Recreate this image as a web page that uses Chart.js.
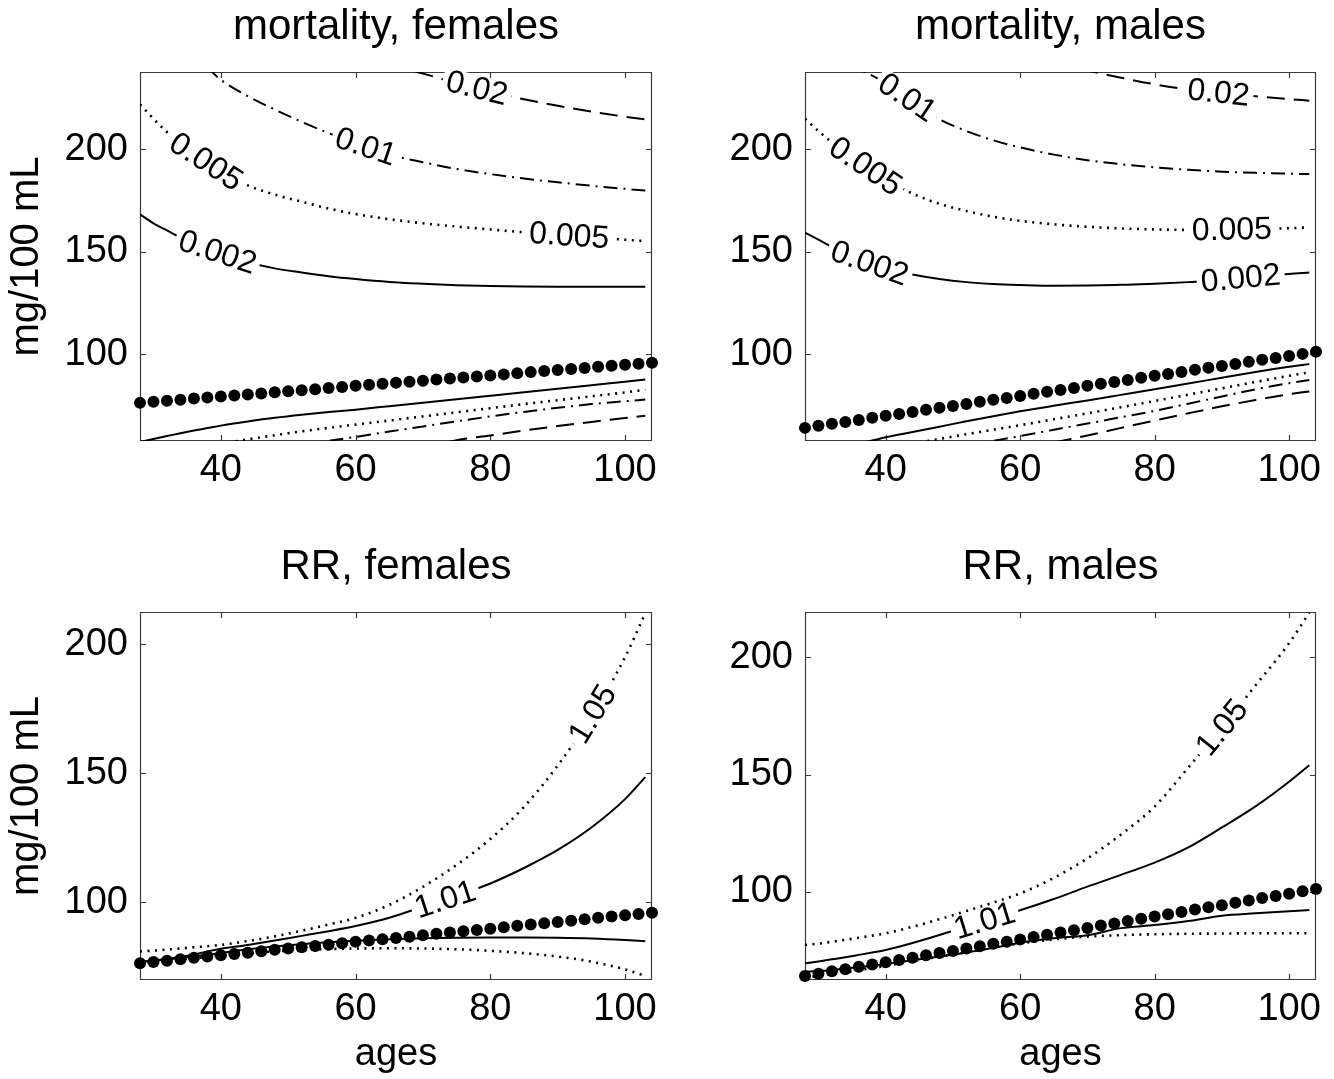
<!DOCTYPE html>
<html>
<head>
<meta charset="utf-8">
<script src="https://cdn.jsdelivr.net/npm/chart.js@4.4.1/dist/chart.umd.min.js"></script>
<style>
  html, body { margin: 0; padding: 0; background: #fff; }
  #wrap { position: relative; width: 1334px; height: 1079px; overflow: hidden; background: #fff; }
  #wrap canvas { position: absolute; }
</style>
</head>
<body>
<div id="wrap">
  <canvas id="mortF" width="667" height="540" style="left:0;top:0"></canvas>
  <canvas id="mortM" width="667" height="540" style="left:667px;top:0"></canvas>
  <canvas id="rrF" width="667" height="539" style="left:0;top:540px"></canvas>
  <canvas id="rrM" width="667" height="539" style="left:667px;top:540px"></canvas>
</div>
<script>
// ---- axes ----
const xTickVals = [40, 60, 80, 100];
const yTickVals = [100, 150, 200];

// ---- dotted reference series (big black dots) ----
const dotAges = [28, 30, 32, 34, 36, 38, 40, 42, 44, 46, 48, 50, 52, 54, 56, 58, 60, 62, 64, 66,
                 68, 70, 72, 74, 76, 78, 80, 82, 84, 86, 88, 90, 92, 94, 96, 98, 100, 102, 104];
const femaleDots = [76.4, 76.9, 77.4, 77.9, 78.5, 79.0, 79.5, 80.0, 80.5, 81.0,
                    81.6, 82.1, 82.6, 83.1, 83.6, 84.1, 84.7, 85.2, 85.7, 86.2,
                    86.7, 87.2, 87.8, 88.3, 88.8, 89.3, 89.8, 90.3, 90.9, 91.4,
                    91.9, 92.4, 92.9, 93.4, 94.0, 94.5, 95.0, 95.5, 96.0];
const maleDots = [64.2, 65.2, 66.2, 67.1, 68.1, 69.1, 70.1, 71.0, 72.0, 73.0,
                  74.0, 74.9, 75.9, 76.9, 77.9, 78.8, 79.8, 80.8, 81.8, 82.7,
                  83.7, 84.7, 85.7, 86.6, 87.6, 88.6, 89.6, 90.5, 91.5, 92.5,
                  93.5, 94.4, 95.4, 96.4, 97.4, 98.3, 99.3, 100.3, 101.3];

// ---- contour lines, all read at these ages ----
const contourAges = [28, 30, 32, 34, 36, 38, 40, 44, 48, 52, 56, 60, 65, 70, 75, 80, 85, 90, 95, 100, 103];

// mortality, females
const mortF_hi002 = [168.4, 164, 160.5, 157, 154, 151.5, 149.3, 145, 142, 140, 138.2, 136.8, 135.4, 134.5, 133.8, 133.4, 133.2, 133.1, 133.1, 133.1, 133.1];
const mortF_hi005 = [222, 215, 208.5, 203, 198, 193.5, 189.5, 182.5, 178, 174.5, 171.2, 168.5, 166, 164, 162.4, 161, 159.6, 158.3, 157.2, 156, 155.3];
const mortF_hi01 = [null, null, null, null, null, 240, 234, 226, 219.5, 213.5, 208, 203, 197.5, 193.8, 190.5, 188, 185.8, 184, 182.3, 180.8, 180];
const mortF_hi02 = [null, null, null, null, null, null, null, null, null, null, null, null, 241, 237, 232.3, 228.2, 224.5, 221.3, 218.5, 216, 214.7];
const mortF_lo002 = [57.3, 58.8, 60.2, 61.6, 62.9, 64.1, 65.3, 67.3, 69.1, 70.6, 71.9, 73.1, 74.8, 76.5, 78.2, 79.9, 81.6, 83.3, 85, 86.7, 87.8];
const mortF_lo005 = [null, null, null, null, null, null, 56.5, 58.6, 60.6, 62.5, 64.2, 65.8, 67.8, 69.8, 71.8, 73.8, 75.8, 77.7, 79.6, 81.5, 82.8];
const mortF_lo01 = [null, null, null, null, null, null, null, null, null, 56, 57.9, 59.8, 62.4, 64.9, 67.4, 69.8, 72, 74, 75.8, 77.2, 78];
const mortF_lo02 = [null, null, null, null, null, null, null, null, null, null, null, null, null, 54.5, 58.2, 60.5, 62.9, 65.1, 67.1, 69, 70.1];

// mortality, males
const mortM_hi002 = [159.5, 156, 152.5, 149.3, 146.5, 144, 142, 139, 136.8, 135.3, 134.4, 133.9, 133.5, 133.6, 134, 134.5, 135.3, 136.3, 137.8, 139.3, 140];
const mortM_hi005 = [215, 209, 203.5, 198.5, 194, 189.5, 185.5, 178.5, 173.5, 170, 167.2, 165.2, 163.5, 162.3, 161.5, 161, 160.8, 160.8, 161.1, 161.6, 162];
const mortM_hi01 = [null, null, null, 242, 239, 236, 232.3, 223.5, 214.8, 209, 204.5, 201, 197.5, 194.8, 192.8, 191.3, 190.1, 189.2, 188.6, 188.2, 188];
const mortM_hi02 = [null, null, null, null, null, null, null, null, null, null, null, null, 242, 238.5, 235, 231.8, 229.3, 227.5, 226, 224.6, 223.8];
const mortM_lo002 = [null, null, null, null, 56.5, 58, 59.6, 62.2, 64.8, 67.4, 69.9, 72.3, 75, 77.6, 80.3, 83, 85.8, 88.7, 91.5, 94, 95.3];
const mortM_lo005 = [null, null, null, null, null, null, null, 56.5, 58.8, 61.1, 63.3, 65.5, 68.4, 71.3, 74.3, 77.3, 80.4, 83.5, 86.6, 89.6, 91.3];
const mortM_lo01 = [null, null, null, null, null, null, null, null, null, 55.6, 57.9, 60.2, 63.3, 66.3, 69.4, 72.5, 76, 79.5, 83, 86, 87.6];
const mortM_lo02 = [null, null, null, null, null, null, null, null, null, null, null, null, 57, 60.5, 64.2, 67.8, 71.3, 74.7, 77.8, 80.6, 82];

// RR, females
const rrF_hi105 = [81, 81.3, 81.7, 82.1, 82.6, 83, 83.5, 85, 86.8, 89, 91.4, 94, 99, 106, 114.5, 124.5, 137, 153, 172, 195, 212];
const rrF_hi101 = [77, 77.4, 78, 78.8, 79.8, 81, 82, 83.5, 85.2, 87, 88.8, 90.8, 94, 98.3, 102.5, 107.3, 113.3, 120.3, 129, 140, 148.5];
const rrF_lo101 = [77, 77.3, 77.8, 78.4, 79, 79.7, 80.4, 81.8, 82.9, 83.8, 84.5, 85.1, 85.7, 86.1, 86.3, 86.4, 86.4, 86.3, 86, 85.4, 84.9];
const rrF_lo105 = [76.5, 76.9, 77.3, 77.8, 78.3, 78.8, 79.3, 80.2, 81, 81.5, 81.9, 82.1, 82.2, 82.1, 81.8, 81.2, 80.3, 79, 77, 74, 71.5];

// RR, males
const rrM_hi105 = [77.4, 78, 78.8, 79.6, 80.5, 81.4, 82.4, 85.2, 88.4, 91.9, 95.5, 99.4, 106, 114.3, 124.5, 136.4, 153, 170, 188, 206, 219];
const rrM_hi101 = [69.6, 70.4, 71.3, 72.2, 73.2, 74.2, 75.3, 78.3, 81.7, 85.3, 88.8, 92.2, 97, 102.3, 107.3, 112.5, 119, 127.5, 136.5, 147, 154];
const rrM_lo101 = [66, 66.3, 66.8, 67.4, 68, 68.6, 69.3, 70.9, 72.5, 74.2, 76.2, 78.4, 80.3, 81.6, 84.6, 85.9, 87.6, 89.9, 90.9, 91.8, 92.3];
const rrM_lo105 = [63.5, 64.2, 65, 65.8, 66.7, 67.6, 68.5, 70.6, 72.5, 74.3, 76.4, 78.1, 79.8, 81, 81.6, 82, 82.2, 82.3, 82.4, 82.4, 82.4];

// ---- contour labels (text, which line, age where it sits) ----
const mortFLabels = [
    { text: '0.02', series: 'hi02', age: 78 },
    { text: '0.01', series: 'hi01', age: 61.5 },
    { text: '0.005', series: 'hi005', age: 37.8 },
    { text: '0.005', series: 'hi005', age: 91.7 },
    { text: '0.002', series: 'hi002', age: 39.5 },
];
const mortMLabels = [
    { text: '0.02', series: 'hi02', age: 89.5 },
    { text: '0.01', series: 'hi01', age: 43.2 },
    { text: '0.005', series: 'hi005', age: 37 },
    { text: '0.005', series: 'hi005', age: 91.5 },
    { text: '0.002', series: 'hi002', age: 37.6 },
    { text: '0.002', series: 'hi002', age: 92.8 },
];
const rrFLabels = [
    { text: '1.05', series: 'hi105', age: 95.2 },
    { text: '1.01', series: 'hi101', age: 73.3 },
];
const rrMLabels = [
    { text: '1.05', series: 'hi105', age: 90 },
    { text: '1.01', series: 'hi101', age: 54.7 },
];

// ---- styling ----
const FONT = "'Liberation Sans', Arial, Helvetica, sans-serif";
const lineDash = {
    solid: [],
    dotted: [2, 5.5],
    dashdot: [14, 6, 2, 6],
    dashed: [18, 9],
};
const lineWidth = { solid: 2, dotted: 2.6, dashdot: 2, dashed: 2 };

function curve(key, vals, style) {
    return {
        key,
        data: contourAges.map((a, i) => ({ x: a, y: vals[i] })).filter(p => p.y !== null),
        borderColor: '#000',
        borderWidth: lineWidth[style],
        borderDash: lineDash[style],
        borderCapStyle: 'butt',
        pointRadius: 0,
        fill: false,
        cubicInterpolationMode: 'monotone',
    };
}

function dots(vals) {
    return {
        key: 'dots',
        data: dotAges.map((a, i) => ({ x: a, y: vals[i] })),
        showLine: false,
        pointRadius: 6,
        pointBackgroundColor: '#000',
        pointBorderColor: '#000',
        pointBorderWidth: 0,
        clip: false,
    };
}

function interp(pts, a) {
    if (a <= pts[0].x) return pts[0].y;
    for (let i = 1; i < pts.length; i++) {
        if (a <= pts[i].x) {
            const t = (a - pts[i - 1].x) / (pts[i].x - pts[i - 1].x);
            return pts[i - 1].y + t * (pts[i].y - pts[i - 1].y);
        }
    }
    return pts[pts.length - 1].y;
}

// box with inward ticks on all four sides (drawn under the data)
const frameBox = {
    id: 'frameBox',
    beforeDatasetsDraw(chart) {
        const { ctx, chartArea: { left, right, top, bottom }, scales: { x, y } } = chart;
        ctx.save();
        ctx.strokeStyle = '#3a3a3a';
        ctx.lineWidth = 1.2;
        ctx.beginPath();
        ctx.rect(left + 0.5, top + 0.5, right - left - 1, bottom - top - 1);
        x.ticks.forEach(t => {
            const p = Math.round(x.getPixelForValue(t.value)) + 0.5;
            ctx.moveTo(p, bottom); ctx.lineTo(p, bottom - 6);
            ctx.moveTo(p, top); ctx.lineTo(p, top + 6);
        });
        y.ticks.forEach(t => {
            const p = Math.round(y.getPixelForValue(t.value)) + 0.5;
            ctx.moveTo(left, p); ctx.lineTo(left + 6, p);
            ctx.moveTo(right, p); ctx.lineTo(right - 6, p);
        });
        ctx.stroke();
        ctx.restore();
    }
};

// inline contour labels, drawn just before the dots (dataset 0) so dots stay on top
const contourLabels = {
    id: 'contourLabels',
    beforeDatasetDraw(chart, args, opts) {
        if (args.index !== 0) return;
        const { ctx, scales: { x, y } } = chart;
        (opts.items || []).forEach(item => {
            const ds = chart.data.datasets.find(d => d.key === item.series);
            const at = a => interp(ds.data, a);
            const px = x.getPixelForValue(item.age);
            const py = y.getPixelForValue(at(item.age));
            const dx = x.getPixelForValue(item.age + 1.5) - x.getPixelForValue(item.age - 1.5);
            const dy = y.getPixelForValue(at(item.age + 1.5)) - y.getPixelForValue(at(item.age - 1.5));
            ctx.save();
            ctx.translate(px, py);
            ctx.rotate(Math.atan2(dy, dx));
            ctx.font = '32px ' + FONT;
            const w = ctx.measureText(item.text).width;
            ctx.fillStyle = '#fff';
            ctx.fillRect(-w / 2 - 4, -13, w + 8, 26);
            ctx.fillStyle = '#000';
            ctx.textAlign = 'center';
            ctx.textBaseline = 'middle';
            ctx.fillText(item.text, 0, 1);
            ctx.restore();
        });
    }
};

function makePanel(id, o) {
    const tickFont = { family: FONT, size: 38 };
    return new Chart(document.getElementById(id), {
        type: 'line',
        data: { datasets: [dots(o.dots), ...o.curves] },
        options: {
            responsive: false,
            animation: false,
            events: [],
            layout: { padding: { left: 0, right: o.rightPad, top: 0, bottom: 0 } },
            plugins: {
                legend: { display: false },
                tooltip: { enabled: false },
                title: {
                    display: true,
                    fullSize: false,
                    text: o.title,
                    color: '#000',
                    font: { family: FONT, size: 42, weight: 'normal', lineHeight: 1.2 },
                    padding: { top: 2, bottom: 19.6 },
                },
                contourLabels: { items: o.labels },
            },
            scales: {
                x: {
                    type: 'linear',
                    min: 28,
                    max: 104,
                    afterBuildTicks: s => { s.ticks = xTickVals.map(v => ({ value: v })); },
                    afterFit: s => { s.height = 99; },
                    grid: { display: false, drawTicks: false },
                    border: { display: false },
                    ticks: { color: '#000', font: tickFont, padding: 7, maxRotation: 0, autoSkip: false },
                    title: {
                        display: o.xTitle,
                        text: 'ages',
                        color: '#000',
                        font: tickFont,
                        padding: { top: 0, bottom: 1.5 },
                    },
                },
                y: {
                    type: 'linear',
                    min: o.yMin,
                    max: o.yMax,
                    afterBuildTicks: s => { s.ticks = yTickVals.map(v => ({ value: v })); },
                    afterFit: s => { s.width = o.yWidth; },
                    grid: { display: false, drawTicks: false },
                    border: { display: false },
                    ticks: { color: '#000', font: tickFont, padding: 12, autoSkip: false },
                    title: {
                        display: o.yTitle,
                        text: 'mg/100 mL',
                        color: '#000',
                        font: { family: FONT, size: 40 },
                        padding: { top: 3, bottom: 0 },
                    },
                },
            },
        },
        plugins: [frameBox, contourLabels],
    });
}

makePanel('mortF', {
    title: 'mortality, females', yMin: 57.8, yMax: 237.8, yWidth: 140, rightPad: 15,
    yTitle: true, xTitle: false, dots: femaleDots, labels: mortFLabels,
    curves: [
        curve('hi002', mortF_hi002, 'solid'),
        curve('hi005', mortF_hi005, 'dotted'),
        curve('hi01', mortF_hi01, 'dashdot'),
        curve('hi02', mortF_hi02, 'dashed'),
        curve('lo002', mortF_lo002, 'solid'),
        curve('lo005', mortF_lo005, 'dotted'),
        curve('lo01', mortF_lo01, 'dashdot'),
        curve('lo02', mortF_lo02, 'dashed'),
    ],
});

makePanel('mortM', {
    title: 'mortality, males', yMin: 57.8, yMax: 237.8, yWidth: 138, rightPad: 18,
    yTitle: false, xTitle: false, dots: maleDots, labels: mortMLabels,
    curves: [
        curve('hi002', mortM_hi002, 'solid'),
        curve('hi005', mortM_hi005, 'dotted'),
        curve('hi01', mortM_hi01, 'dashdot'),
        curve('hi02', mortM_hi02, 'dashed'),
        curve('lo002', mortM_lo002, 'solid'),
        curve('lo005', mortM_lo005, 'dotted'),
        curve('lo01', mortM_lo01, 'dashdot'),
        curve('lo02', mortM_lo02, 'dashed'),
    ],
});

makePanel('rrF', {
    title: 'RR, females', yMin: 69.9, yMax: 212.5, yWidth: 140, rightPad: 15,
    yTitle: true, xTitle: true, dots: femaleDots, labels: rrFLabels,
    curves: [
        curve('hi105', rrF_hi105, 'dotted'),
        curve('hi101', rrF_hi101, 'solid'),
        curve('lo101', rrF_lo101, 'solid'),
        curve('lo105', rrF_lo105, 'dotted'),
    ],
});

makePanel('rrM', {
    title: 'RR, males', yMin: 62.5, yMax: 219.3, yWidth: 138, rightPad: 18,
    yTitle: false, xTitle: true, dots: maleDots, labels: rrMLabels,
    curves: [
        curve('hi105', rrM_hi105, 'dotted'),
        curve('hi101', rrM_hi101, 'solid'),
        curve('lo101', rrM_lo101, 'solid'),
        curve('lo105', rrM_lo105, 'dotted'),
    ],
});
</script>
</body>
</html>
